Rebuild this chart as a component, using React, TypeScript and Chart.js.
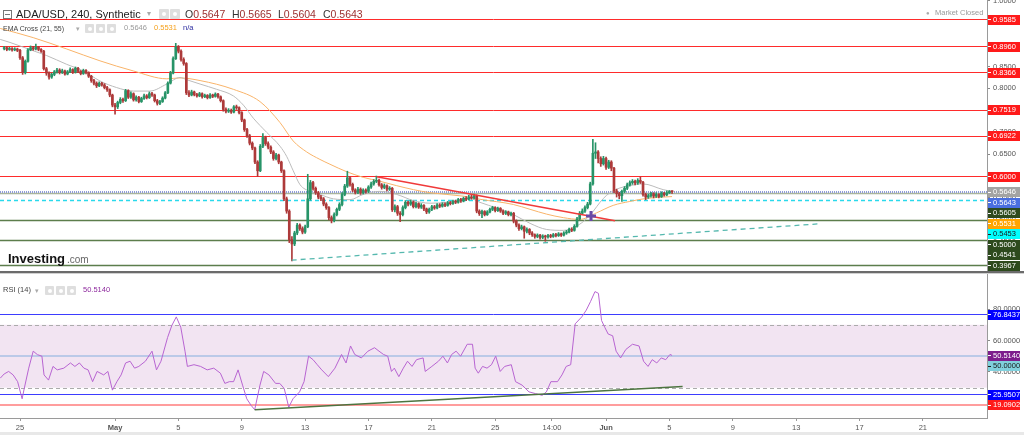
import React, { useEffect, useRef } from 'react';
import { Chart, registerables } from 'chart.js';

Chart.register(...registerables);

const FONT = 'Arial, "Liberation Sans", Helvetica, sans-serif';

// ---------------- DATA (4h candles, index 0 = 24 Apr 00:00) ----------------
const firstOpen = 0.891;

const closes = [
  0.893, 0.889, 0.891, 0.888, 0.890, 0.887, 0.870, 0.836, 0.862, 0.888,
  0.893, 0.890, 0.894, 0.889, 0.885, 0.845, 0.835, 0.826, 0.832, 0.838,
  0.842, 0.836, 0.840, 0.833, 0.838, 0.843, 0.837, 0.846, 0.839, 0.834,
  0.841, 0.836, 0.828, 0.818, 0.812, 0.806, 0.812, 0.808, 0.802, 0.797,
  0.785, 0.762, 0.758, 0.768, 0.775, 0.772, 0.795, 0.780, 0.788, 0.774,
  0.780, 0.770, 0.777, 0.783, 0.779, 0.788, 0.785, 0.772, 0.766, 0.770,
  0.778, 0.790, 0.812, 0.835, 0.868, 0.895, 0.885, 0.866, 0.857, 0.790,
  0.785, 0.792, 0.786, 0.783, 0.788, 0.781, 0.784, 0.779, 0.785, 0.782,
  0.787, 0.781, 0.772, 0.752, 0.748, 0.750, 0.746, 0.758, 0.756, 0.745,
  0.728, 0.706, 0.692, 0.675, 0.664, 0.632, 0.612, 0.668, 0.688, 0.674,
  0.666, 0.655, 0.640, 0.648, 0.632, 0.612, 0.548, 0.520, 0.455, 0.445,
  0.470, 0.488, 0.480, 0.472, 0.484, 0.548, 0.585, 0.572, 0.562, 0.552,
  0.548, 0.536, 0.528, 0.505, 0.498, 0.512, 0.524, 0.535, 0.558, 0.577,
  0.596, 0.581, 0.568, 0.563, 0.570, 0.562, 0.568, 0.565, 0.575, 0.582,
  0.588, 0.590, 0.580, 0.574, 0.578, 0.570, 0.572, 0.523, 0.530, 0.515,
  0.512, 0.528, 0.540, 0.536, 0.541, 0.530, 0.537, 0.529, 0.533, 0.525,
  0.518, 0.524, 0.530, 0.527, 0.534, 0.531, 0.536, 0.533, 0.539, 0.537,
  0.542, 0.540, 0.546, 0.543, 0.549, 0.547, 0.552, 0.550, 0.555, 0.520,
  0.514, 0.519, 0.512, 0.518, 0.524, 0.528, 0.521, 0.526, 0.520, 0.515,
  0.518, 0.512, 0.515, 0.497, 0.488, 0.480, 0.484, 0.474, 0.478, 0.470,
  0.466, 0.462, 0.465, 0.460, 0.463, 0.461, 0.464, 0.462, 0.466, 0.464,
  0.468, 0.465, 0.470, 0.472, 0.478, 0.476, 0.485, 0.502, 0.515, 0.520,
  0.528, 0.536, 0.582, 0.652, 0.655, 0.640, 0.628, 0.640, 0.620, 0.632,
  0.618, 0.566, 0.560, 0.555, 0.565, 0.572, 0.580, 0.585, 0.588, 0.584,
  0.590, 0.586, 0.558, 0.552, 0.555, 0.560, 0.554, 0.558, 0.553, 0.561,
  0.557, 0.562, 0.5647, 0.5643,
];

const highs = [
  0.896, 0.895, 0.894, 0.893, 0.893, 0.892, 0.889, 0.873, 0.865, 0.891,
  0.897, 0.896, 0.901, 0.896, 0.891, 0.887, 0.848, 0.838, 0.835, 0.841,
  0.846, 0.845, 0.844, 0.842, 0.841, 0.847, 0.845, 0.849, 0.848, 0.841,
  0.844, 0.843, 0.838, 0.830, 0.821, 0.815, 0.815, 0.814, 0.811, 0.805,
  0.799, 0.787, 0.766, 0.771, 0.779, 0.778, 0.798, 0.797, 0.792, 0.790,
  0.783, 0.782, 0.780, 0.787, 0.786, 0.792, 0.791, 0.787, 0.775, 0.773,
  0.781, 0.793, 0.815, 0.839, 0.872, 0.903, 0.898, 0.888, 0.870, 0.859,
  0.795, 0.796, 0.794, 0.789, 0.791, 0.790, 0.787, 0.786, 0.788, 0.787,
  0.790, 0.789, 0.783, 0.774, 0.756, 0.754, 0.753, 0.761, 0.762, 0.758,
  0.747, 0.730, 0.709, 0.695, 0.678, 0.666, 0.635, 0.672, 0.697, 0.691,
  0.678, 0.669, 0.658, 0.652, 0.650, 0.634, 0.614, 0.552, 0.523, 0.462,
  0.474, 0.492, 0.491, 0.484, 0.488, 0.604, 0.590, 0.588, 0.575, 0.565,
  0.556, 0.551, 0.539, 0.530, 0.509, 0.516, 0.527, 0.539, 0.562, 0.581,
  0.611, 0.599, 0.584, 0.571, 0.574, 0.573, 0.571, 0.571, 0.578, 0.586,
  0.592, 0.600, 0.593, 0.583, 0.582, 0.580, 0.576, 0.574, 0.534, 0.533,
  0.519, 0.532, 0.544, 0.543, 0.545, 0.543, 0.540, 0.539, 0.537, 0.535,
  0.527, 0.527, 0.533, 0.533, 0.537, 0.537, 0.539, 0.539, 0.542, 0.542,
  0.545, 0.545, 0.549, 0.549, 0.552, 0.553, 0.556, 0.556, 0.559, 0.557,
  0.523, 0.522, 0.521, 0.521, 0.527, 0.531, 0.530, 0.529, 0.528, 0.523,
  0.521, 0.520, 0.518, 0.517, 0.500, 0.491, 0.488, 0.486, 0.482, 0.480,
  0.473, 0.468, 0.468, 0.467, 0.466, 0.465, 0.467, 0.467, 0.469, 0.469,
  0.471, 0.470, 0.473, 0.476, 0.481, 0.482, 0.489, 0.506, 0.519, 0.525,
  0.532, 0.540, 0.586, 0.684, 0.676, 0.658, 0.644, 0.645, 0.643, 0.636,
  0.635, 0.620, 0.570, 0.563, 0.568, 0.576, 0.584, 0.589, 0.592, 0.591,
  0.594, 0.598, 0.588, 0.561, 0.559, 0.563, 0.562, 0.562, 0.560, 0.564,
  0.563, 0.566, 0.567, 0.5665,
];

const lows = [
  0.888, 0.886, 0.887, 0.885, 0.886, 0.884, 0.866, 0.832, 0.833, 0.860,
  0.886, 0.887, 0.888, 0.886, 0.882, 0.842, 0.830, 0.821, 0.823, 0.829,
  0.835, 0.833, 0.834, 0.830, 0.831, 0.836, 0.834, 0.835, 0.836, 0.831,
  0.832, 0.833, 0.825, 0.814, 0.808, 0.802, 0.804, 0.805, 0.799, 0.793,
  0.781, 0.758, 0.741, 0.754, 0.765, 0.768, 0.770, 0.777, 0.777, 0.771,
  0.771, 0.767, 0.768, 0.775, 0.776, 0.777, 0.782, 0.769, 0.762, 0.763,
  0.768, 0.776, 0.788, 0.810, 0.833, 0.866, 0.881, 0.862, 0.853, 0.786,
  0.781, 0.783, 0.783, 0.780, 0.781, 0.778, 0.779, 0.776, 0.777, 0.779,
  0.780, 0.778, 0.769, 0.748, 0.744, 0.745, 0.743, 0.744, 0.752, 0.742,
  0.724, 0.702, 0.688, 0.671, 0.660, 0.628, 0.599, 0.610, 0.665, 0.670,
  0.662, 0.651, 0.636, 0.637, 0.628, 0.608, 0.544, 0.515, 0.448, 0.406,
  0.441, 0.466, 0.476, 0.468, 0.469, 0.482, 0.545, 0.568, 0.558, 0.548,
  0.544, 0.532, 0.524, 0.500, 0.493, 0.495, 0.509, 0.521, 0.532, 0.555,
  0.574, 0.577, 0.564, 0.559, 0.560, 0.558, 0.559, 0.561, 0.562, 0.572,
  0.579, 0.585, 0.577, 0.570, 0.571, 0.566, 0.567, 0.519, 0.518, 0.510,
  0.496, 0.509, 0.525, 0.532, 0.533, 0.527, 0.527, 0.526, 0.526, 0.521,
  0.514, 0.515, 0.521, 0.524, 0.525, 0.528, 0.529, 0.530, 0.531, 0.534,
  0.535, 0.537, 0.538, 0.540, 0.541, 0.544, 0.545, 0.547, 0.548, 0.516,
  0.510, 0.505, 0.509, 0.510, 0.516, 0.521, 0.518, 0.519, 0.517, 0.512,
  0.512, 0.509, 0.509, 0.493, 0.484, 0.476, 0.477, 0.458, 0.470, 0.466,
  0.462, 0.458, 0.459, 0.456, 0.457, 0.451, 0.458, 0.459, 0.460, 0.461,
  0.462, 0.462, 0.463, 0.467, 0.470, 0.473, 0.474, 0.483, 0.500, 0.512,
  0.517, 0.525, 0.534, 0.579, 0.640, 0.630, 0.622, 0.625, 0.615, 0.617,
  0.612, 0.562, 0.552, 0.548, 0.542, 0.562, 0.569, 0.577, 0.581, 0.580,
  0.581, 0.583, 0.554, 0.546, 0.549, 0.552, 0.550, 0.551, 0.550, 0.551,
  0.554, 0.555, 0.560, 0.5604,
];

// EMA 21 (grey) and EMA 55 (orange)
const ema21Idx = [-1.5, 2.2, 11, 16.1, 23.7, 30, 36.3, 42.6, 48.9, 55.2, 61.6, 66.6, 69.1, 74.2, 80.5, 86.8, 90.6, 94.4, 99.4, 104.5, 107, 109.5, 112.1, 115.9, 119.6, 124.7, 131, 136, 142.4, 148.7, 155, 161.3, 167.6, 176.4, 180.2, 186.5, 192.9, 199.2, 205.5, 211.8, 216.9, 220.7, 223.2, 225.7, 228.2, 232, 237, 242, 249.6, 253];
const ema21Vals = [0.912, 0.905, 0.886, 0.875, 0.855, 0.840, 0.817, 0.802, 0.794, 0.794, 0.810, 0.825, 0.820, 0.810, 0.798, 0.783, 0.762, 0.732, 0.700, 0.668, 0.645, 0.612, 0.580, 0.565, 0.558, 0.548, 0.546, 0.558, 0.565, 0.558, 0.544, 0.538, 0.540, 0.549, 0.540, 0.527, 0.512, 0.492, 0.478, 0.476, 0.486, 0.503, 0.520, 0.540, 0.556, 0.570, 0.578, 0.582, 0.569, 0.5646];
const ema55Idx = [-1.5, 11, 23.7, 36.3, 48.9, 61.6, 66.6, 74.2, 86.8, 96.9, 104.5, 109.5, 114.6, 119.6, 123.4, 129.7, 136, 142.4, 148.7, 155, 161.3, 174, 180.2, 192.9, 199.2, 205.5, 211.8, 218, 224.4, 230.7, 237, 243.3, 253];
const ema55Vals = [0.937, 0.916, 0.890, 0.863, 0.840, 0.822, 0.824, 0.818, 0.798, 0.770, 0.722, 0.680, 0.655, 0.638, 0.627, 0.610, 0.597, 0.588, 0.578, 0.569, 0.562, 0.554, 0.547, 0.535, 0.524, 0.513, 0.505, 0.501, 0.516, 0.533, 0.542, 0.549, 0.5531];

// RSI(14)
const rsiIdx = [-1.5, 0, 1.7, 3.4, 5.1, 6.8, 7.6, 9.3, 11, 12.6, 14.3, 15.1, 16.8, 18.5, 20.1, 22.6, 25.1, 26.8, 28.5, 30.2, 31.8, 33.5, 35.2, 37.7, 39.3, 41, 42.7, 44.3, 46, 47.7, 49.4, 51, 53.5, 56, 57.7, 59.4, 61.9, 63.5, 65.2, 66.9, 68.5, 69.4, 71.9, 74.4, 76.9, 79.4, 81.9, 83.6, 85.3, 86.9, 88.6, 90.3, 91.9, 93.6, 94.9, 96.9, 98.3, 100.3, 102.8, 104.4, 106.1, 107.8, 109.4, 111.9, 113.6, 115.3, 117, 118.6, 120.3, 122.8, 125.3, 127.8, 129.5, 131.2, 132.8, 135.3, 137.8, 140.3, 142, 143.7, 145.3, 146.7, 147.8, 149.5, 151.2, 152.8, 154.5, 156.2, 158.7, 159.5, 162, 164.5, 166.2, 167.9, 169.5, 171.2, 172.9, 175.4, 177.4, 178.4, 179.6, 181.2, 182.9, 184.6, 186.2, 187.9, 189.6, 192.1, 193.7, 196.2, 198.8, 201.3, 203.8, 205.4, 207.1, 209.6, 211.3, 212.9, 214.6, 216.3, 218.8, 220.5, 222.1, 223.8, 225.1, 226.3, 227.5, 228.8, 230.5, 231.8, 233.5, 235.5, 238, 240.5, 242.2, 243.9, 245.5, 247.2, 248.9, 250.6, 252.2, 253];
const rsiVals = [36, 38.7, 40.3, 38.1, 33.8, 22.9, 29.4, 42.4, 53.2, 51, 50, 38.1, 34.8, 43.5, 41.3, 42.4, 45.7, 43.5, 45.7, 42.4, 41.3, 33.8, 40.3, 38.1, 40.3, 28.4, 33.8, 38.1, 45.7, 46.8, 42.4, 43.5, 46.8, 53.2, 41.3, 46.8, 61.9, 69.5, 75, 68.4, 53.2, 43.5, 44.6, 43.5, 41.3, 42.4, 39.2, 32.7, 33.8, 33.8, 41.3, 31.6, 22.9, 18.6, 16, 31.6, 40.3, 38.1, 32.7, 32.7, 29.4, 17.5, 22.9, 27.3, 33.8, 50, 47.8, 44.6, 41.3, 37, 42.4, 51.1, 45.7, 56.5, 51.1, 48.9, 53.2, 55.4, 53.2, 51.1, 50, 40.3, 42.4, 37, 42.4, 46.8, 43.5, 47.8, 48.9, 40.3, 43.5, 46.8, 50, 45.7, 51.1, 53.2, 50, 57.6, 57.6, 42.4, 39.2, 43.5, 42.4, 44.6, 50, 40.3, 43.5, 44.6, 33.8, 31.6, 27.3, 26.2, 25.1, 27.3, 33.8, 33.8, 38.1, 43.5, 44.6, 70.6, 75, 79.3, 84.7, 91.1, 90, 72.7, 68.4, 64.1, 63, 53.2, 48.9, 54.3, 57.6, 56.5, 46.8, 43.5, 47.8, 45.7, 48.9, 47.8, 51.1, 50.514];

// Drawn levels and trend lines
const redLevels = [0.9585, 0.896, 0.8366, 0.7519, 0.6922, 0.6];
const greenLevels = [0.5, 0.4541, 0.3967];
const paleGreenLevel = 0.5605;
const dottedLevel = 0.5646;
const cyanLevel = 0.5453;
const downTrendIdx = [141.1, 231.4];
const downTrendVals = [0.5985, 0.498];
const upTrendIdx = [108.9, 309];
const upTrendVals = [0.408, 0.491];
const crossIdx = [222.3];
const crossVals = [0.509];

const rsiBand = [30, 70];
const rsiBlueLevels = [76.8437, 25.9507];
const rsiRedLevel = 19.0902;
const rsiMidLevel = 50;
const rsiTrendIdx = [94.9, 257];
const rsiTrendVals = [16, 30.8];

// Axis ticks
const xTickIdx = [6, 42, 66, 90, 114, 138, 162, 186, 207.5, 228, 252, 276, 300, 324, 348];
const xTickLabels = ['25', 'May', '5', '9', '13', '17', '21', '25', '14:00', 'Jun', '5', '9', '13', '17', '21'];
const priceTicks = [0.4, 0.45, 0.5, 0.55, 0.6, 0.65, 0.7, 0.75, 0.8, 0.85, 0.9, 0.95, 1.0];
const rsiTicks = [20, 40, 60, 80];

// Price tags on the right axes
const priceTagValues = [0.9585, 0.896, 0.8366, 0.7519, 0.6922, 0.6, 0.5646, 0.5643, 0.5605, 0.5531, 0.5453, 0.5, 0.4541, 0.3967];
const rsiTagValues = [76.8437, 50.514, 50, 25.9507, 19.0902];

// ---------------- STYLE / LAYOUT ----------------
const RED_TAG = '#ff1a1a';
const DKGREEN_TAG = '#2d4a1d';
const priceTagBg = [RED_TAG, RED_TAG, RED_TAG, RED_TAG, RED_TAG, RED_TAG, '#a3a3a3', '#4a6fe0', DKGREEN_TAG, '#ffa500', '#00ffff', DKGREEN_TAG, DKGREEN_TAG, DKGREEN_TAG];
const priceTagFg = ['#fff', '#fff', '#fff', '#fff', '#fff', '#fff', '#fff', '#fff', '#fff', '#fff', '#1a1a1a', '#fff', '#fff', '#fff'];
const rsiTagBg = ['#0000ff', '#7d1d8c', '#80d0dc', '#0000ff', RED_TAG];
const rsiTagFg = ['#fff', '#fff', '#1a1a1a', '#fff', '#fff'];

const GREEN = '#279468';
const RED = '#ad3a3a';
const X_MIN = -1.58;
const X_MAX = 372.3;
const P_MIN = 0.3832;
const P_MAX = 1.0019;
const R_MIN = 10.69;
const R_MAX = 102.29;
const AXIS_W = 37;

function hline(ctx: any, area: any, y: number, color: string, width: number, dash?: number[]) {
  ctx.save();
  ctx.beginPath();
  ctx.strokeStyle = color;
  ctx.lineWidth = width;
  ctx.setLineDash(dash || []);
  const yy = Math.round(y) + (Math.round(width) % 2 === 1 ? 0.5 : 0);
  ctx.moveTo(area.left, yy);
  ctx.lineTo(area.right, yy);
  ctx.stroke();
  ctx.restore();
}

function drawTags(chart: any, values: number[], bgs: string[], fgs: string[]) {
  const { ctx, chartArea } = chart;
  const s = chart.scales.y;
  const items = values
    .map((v, i) => ({ v, bg: bgs[i], fg: fgs[i], y: s.getPixelForValue(v) }))
    .sort((a, b) => a.y - b.y);
  let last = -1e9;
  for (const it of items) {
    if (it.y < last + 10.5) it.y = last + 10.5;
    last = it.y;
  }
  ctx.save();
  ctx.font = `7.5px ${FONT}`;
  ctx.textBaseline = 'middle';
  ctx.textAlign = 'left';
  const x0 = chartArea.right + 1;
  for (const it of items) {
    ctx.fillStyle = it.bg;
    ctx.fillRect(x0, Math.round(it.y - 4.5), 32, 10);
    ctx.fillStyle = it.fg;
    ctx.fillRect(x0, Math.round(it.y), 3, 1);
    ctx.fillText(it.v.toFixed(4), x0 + 5, it.y + 0.5);
  }
  ctx.restore();
}

const mainPlugin = {
  id: 'mainLevels',
  beforeDatasetsDraw(chart: any) {
    const { ctx, chartArea } = chart;
    const y = chart.scales.y;
    redLevels.forEach((v) => hline(ctx, chartArea, y.getPixelForValue(v), '#ff2b2b', 1));
    hline(ctx, chartArea, y.getPixelForValue(paleGreenLevel), '#a9b59c', 1.4);
    greenLevels.forEach((v) => hline(ctx, chartArea, y.getPixelForValue(v), '#5c7d4c', 1.4));
    hline(ctx, chartArea, y.getPixelForValue(dottedLevel), '#8e9bd8', 2, [1, 1]);
    hline(ctx, chartArea, y.getPixelForValue(cyanLevel), '#2ad9ec', 1.3, [4, 3]);
  },
  afterDraw(chart: any) {
    drawTags(chart, priceTagValues, priceTagBg, priceTagFg);
  },
};

const rsiPlugin = {
  id: 'rsiLevels',
  beforeDatasetsDraw(chart: any) {
    const { ctx, chartArea } = chart;
    const y = chart.scales.y;
    const yTop = y.getPixelForValue(rsiBand[1]);
    const yBot = y.getPixelForValue(rsiBand[0]);
    ctx.save();
    ctx.fillStyle = '#f2e4f2';
    ctx.fillRect(chartArea.left, yTop, chartArea.right - chartArea.left, yBot - yTop);
    ctx.restore();
    rsiBand.forEach((v) => hline(ctx, chartArea, y.getPixelForValue(v), '#ababab', 1, [4, 3]));
    rsiBlueLevels.forEach((v) => hline(ctx, chartArea, y.getPixelForValue(v), '#3d3dff', 1));
    hline(ctx, chartArea, y.getPixelForValue(rsiRedLevel), '#ff9d9d', 2);
    hline(ctx, chartArea, y.getPixelForValue(rsiMidLevel), '#a8c1e4', 1.5);
  },
  afterDraw(chart: any) {
    drawTags(chart, rsiTagValues, rsiTagBg, rsiTagFg);
  },
};

function pts(xs: number[], ys: number[]) {
  return xs.map((x, i) => ({ x, y: ys[i] }));
}

function T(props: any) {
  const { x, y, size, color, bold, children } = props;
  return (
    <div
      style={{
        position: 'absolute', left: x, top: y, fontSize: size, lineHeight: 1, color,
        fontWeight: bold ? 700 : 400, whiteSpace: 'nowrap', fontFamily: FONT,
      }}
    >
      {children}
    </div>
  );
}

function Icon(props: any) {
  const { x, y, s } = props;
  return (
    <div style={{ position: 'absolute', left: x, top: y, width: s, height: s, background: '#dedede', borderRadius: 1 }}>
      <div style={{ position: 'absolute', left: s / 2 - 2, top: s / 2 - 2, width: 4, height: 4, borderRadius: 2, background: '#fff' }} />
    </div>
  );
}

export default function App() {
  const mainRef = useRef<HTMLCanvasElement>(null);
  const rsiRef = useRef<HTMLCanvasElement>(null);

  useEffect(() => {
    const opens = closes.map((c, i) => (i === 0 ? firstOpen : closes[i - 1]));
    const colors = closes.map((c, i) => (c >= opens[i] ? GREEN : RED));
    const bodyData = closes.map((c, i) => ({ x: i, y: [Math.min(opens[i], c), Math.max(opens[i], c)] }));
    const wickData = closes.map((c, i) => ({ x: i, y: [lows[i], highs[i]] }));

    const yAxisBase = (min: number, max: number, ticks: number[]) => ({
      type: 'linear',
      position: 'right',
      min,
      max,
      afterFit: (s: any) => { s.width = AXIS_W; s.paddingTop = 0; s.paddingBottom = 0; },
      afterBuildTicks: (s: any) => { s.ticks = ticks.map((v) => ({ value: v })); },
      ticks: {
        callback: (v: any) => Number(v).toFixed(4),
        color: '#555',
        font: { size: 7.5, family: FONT },
        padding: 3,
        autoSkip: false,
      },
      grid: { drawOnChartArea: false, drawTicks: true, tickLength: 3, color: '#888' },
      border: { display: true, color: '#9a9a9a', width: 1 },
    });

    const main = new Chart(mainRef.current as any, {
      type: 'bar',
      data: {
        datasets: [
          { type: 'line', data: pts(ema55Idx, ema55Vals), borderColor: '#f9b46a', borderWidth: 1, pointRadius: 0, cubicInterpolationMode: 'monotone', order: 6 } as any,
          { type: 'line', data: pts(ema21Idx, ema21Vals), borderColor: '#bcbcbc', borderWidth: 1, pointRadius: 0, cubicInterpolationMode: 'monotone', order: 5 } as any,
          { type: 'bar', data: wickData, backgroundColor: colors, grouped: false, categoryPercentage: 1, barPercentage: 1, maxBarThickness: 1, order: 4 } as any,
          { type: 'bar', data: bodyData, backgroundColor: colors, grouped: false, categoryPercentage: 1, barPercentage: 1, maxBarThickness: 2, minBarLength: 1, order: 3 } as any,
          { type: 'line', data: pts(downTrendIdx, downTrendVals), borderColor: '#f03a3a', borderWidth: 1.5, pointRadius: 0, order: 2 } as any,
          { type: 'line', data: pts(upTrendIdx, upTrendVals), borderColor: '#55b8ae', borderWidth: 1.3, borderDash: [5, 4], pointRadius: 0, order: 1 } as any,
          { type: 'line', data: pts(crossIdx, crossVals), showLine: false, pointStyle: 'cross', pointRadius: 5, pointBorderWidth: 3, pointBorderColor: '#6a4aa6', order: 0 } as any,
        ],
      },
      options: {
        responsive: false,
        animation: false,
        devicePixelRatio: 1,
        events: [],
        layout: { padding: 0, autoPadding: false },
        plugins: { legend: { display: false }, tooltip: { enabled: false } },
        scales: {
          x: { type: 'linear', min: X_MIN, max: X_MAX, display: false, offset: false, grid: { offset: false } },
          y: yAxisBase(P_MIN, P_MAX, priceTicks),
        },
      } as any,
      plugins: [mainPlugin],
    });

    const rsi = new Chart(rsiRef.current as any, {
      type: 'line',
      data: {
        datasets: [
          { data: pts(rsiIdx, rsiVals), borderColor: '#b865d2', borderWidth: 1, pointRadius: 0, tension: 0, order: 1 } as any,
          { data: pts(rsiTrendIdx, rsiTrendVals), borderColor: '#4d7440', borderWidth: 1.5, pointRadius: 0, order: 0 } as any,
        ],
      },
      options: {
        responsive: false,
        animation: false,
        devicePixelRatio: 1,
        events: [],
        layout: { padding: 0, autoPadding: false },
        plugins: { legend: { display: false }, tooltip: { enabled: false } },
        scales: {
          x: {
            type: 'linear',
            position: 'bottom',
            min: X_MIN,
            max: X_MAX,
            offset: false,
            afterFit: (s: any) => { s.height = 14; s.paddingLeft = 0; s.paddingRight = 0; },
            afterBuildTicks: (s: any) => { s.ticks = xTickIdx.map((v) => ({ value: v })); },
            ticks: {
              autoSkip: false,
              maxRotation: 0,
              minRotation: 0,
              padding: 2,
              color: '#555',
              callback: (_v: any, i: number) => xTickLabels[i],
              font: (c: any) => ({
                size: 7.5,
                family: FONT,
                weight: xTickLabels[c.index] === 'May' || xTickLabels[c.index] === 'Jun' ? 'bold' : 'normal',
              }),
            },
            grid: { drawOnChartArea: false, drawTicks: true, tickLength: 3, color: '#999' },
            border: { display: true, color: '#9a9a9a' },
          },
          y: yAxisBase(R_MIN, R_MAX, rsiTicks),
        },
      } as any,
      plugins: [rsiPlugin],
    });

    return () => {
      main.destroy();
      rsi.destroy();
    };
  }, []);

  return (
    <div style={{ position: 'fixed', left: 0, top: 0, width: 1024, height: 435, background: '#fff', overflow: 'hidden', fontFamily: FONT }}>
      <canvas ref={mainRef} width={1024} height={271} style={{ position: 'absolute', left: 0, top: 0, width: 1024, height: 271 }} />
      <div style={{ position: 'absolute', left: 0, top: 271, width: 1024, height: 2, background: '#6b6b6b' }} />
      <div style={{ position: 'absolute', left: 0, top: 273, width: 1024, height: 1, background: '#d0d0d0' }} />
      <canvas ref={rsiRef} width={1024} height={158} style={{ position: 'absolute', left: 0, top: 274, width: 1024, height: 158 }} />
      <div style={{ position: 'absolute', left: 0, top: 432, width: 1024, height: 3, background: '#e8e8e8' }} />

      {/* header line 1 */}
      <div style={{ position: 'absolute', left: 3, top: 10, width: 7, height: 7, border: '1px solid #777' }}>
        <div style={{ position: 'absolute', left: 1, top: 3, width: 5, height: 1, background: '#777' }} />
      </div>
      <T x={16} y={8.6} size={11} color="#222">ADA/USD, 240, Synthetic</T>
      <T x={147} y={10} size={8} color="#aaa">▾</T>
      <Icon x={159} y={9} s={10} />
      <Icon x={170} y={9} s={10} />
      <T x={185} y={9} size={10.5} color="#333">O<span style={{ color: '#9c3030' }}>0.5647</span></T>
      <T x={232} y={9} size={10.5} color="#333">H<span style={{ color: '#9c3030' }}>0.5665</span></T>
      <T x={278} y={9} size={10.5} color="#333">L<span style={{ color: '#9c3030' }}>0.5604</span></T>
      <T x={323} y={9} size={10.5} color="#333">C<span style={{ color: '#9c3030' }}>0.5643</span></T>

      {/* header line 2 */}
      <T x={3} y={24.6} size={7} color="#444">EMA Cross (21, 55)</T>
      <T x={76} y={25} size={7} color="#aaa">▾</T>
      <Icon x={85} y={24} s={9} />
      <Icon x={96} y={24} s={9} />
      <Icon x={107} y={24} s={9} />
      <T x={124} y={24.3} size={7.5} color="#9a9a9a">0.5646</T>
      <T x={154} y={24.3} size={7.5} color="#f5a11c">0.5531</T>
      <T x={183} y={24.3} size={7.5} color="#2c2ca0">n/a</T>

      {/* market closed */}
      <T x={926} y={10} size={6} color="#aaa">●</T>
      <T x={935} y={9.3} size={7.5} color="#999">Market Closed</T>

      {/* logo */}
      <T x={8} y={252} size={13} bold color="#111">Investing</T>
      <T x={67} y={254.5} size={10} color="#666">.com</T>

      {/* RSI header */}
      <T x={3} y={286.3} size={7.5} color="#444">RSI (14)</T>
      <T x={35} y={287} size={7} color="#aaa">▾</T>
      <Icon x={45} y={286} s={9} />
      <Icon x={56} y={286} s={9} />
      <Icon x={67} y={286} s={9} />
      <T x={83} y={286.3} size={7.5} color="#8e2a9e">50.5140</T>
    </div>
  );
}
